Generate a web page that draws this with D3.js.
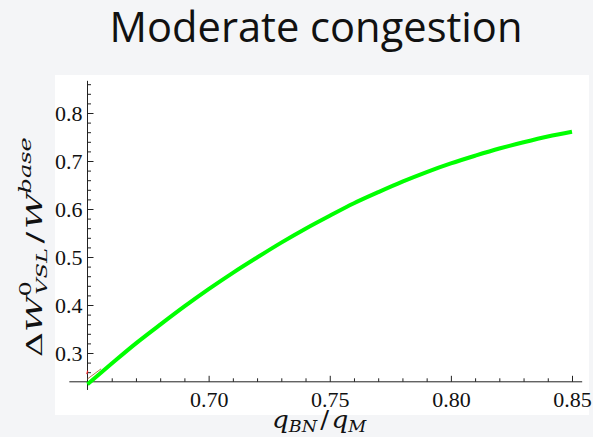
<!DOCTYPE html>
<html>
<head>
<meta charset="utf-8">
<script src="https://cdn.jsdelivr.net/npm/d3@7"></script>
<style>
  body { margin: 0; background: #f4f5f7; }
  svg { display: block; }
</style>
</head>
<body>
<div id="chart"></div>
<script>
// data
var ratio = [0.65, 0.66, 0.67, 0.68, 0.69, 0.70, 0.71, 0.72, 0.73, 0.74, 0.75,
             0.76, 0.77, 0.78, 0.79, 0.80, 0.81, 0.82, 0.83, 0.84, 0.85];
var gain  = [0.235, 0.278, 0.320, 0.359, 0.397, 0.433, 0.467, 0.499, 0.530, 0.559, 0.586,
             0.612, 0.635, 0.657, 0.677, 0.695, 0.711, 0.726, 0.739, 0.751, 0.761];
// tiny stray curves near the origin
var redX = [0.6497, 0.6501];
var redY = [0.256, 0.263];
var brownX = [0.6500, 0.6556];
var brownY = [0.246, 0.267];

var xMajor = [0.70, 0.75, 0.80, 0.85];
var yMajor = [0.3, 0.4, 0.5, 0.6, 0.7, 0.8];

var width = 593, height = 437;

var svg = d3.select("#chart").append("svg")
    .attr("width", width)
    .attr("height", height);

// slide background + white picture
svg.append("rect").attr("width", width).attr("height", height).style("fill", "#f4f5f7");
svg.append("rect").attr("x", 55).attr("y", 75).attr("width", 534).attr("height", 340).style("fill", "#fff");

// title, fitted to width
var title = svg.append("text")
    .attr("x", 316).attr("y", 42)
    .attr("text-anchor", "middle")
    .style("font-family", "'Open Sans', sans-serif")
    .style("font-size", "40px")
    .style("fill", "#111")
    .text("Moderate congestion");
var tw = title.node().getComputedTextLength();
title.style("font-size", (40 * 413 / tw) + "px");

var x = d3.scaleLinear().domain([0.65, 0.85]).range([87.5, 572]);
var y = d3.scaleLinear().domain([0.3, 0.8]).range([353, 113]);

var axisColor = "#222";

// x axis
svg.append("g")
    .attr("transform", "translate(0," + y(0.24) + ")")
    .call(d3.axisBottom(x).tickValues(xMajor).tickSize(-6).tickPadding(10).tickFormat(d3.format(".2f")));
svg.append("g")
    .attr("transform", "translate(0," + y(0.24) + ")")
    .call(d3.axisBottom(x).tickValues(d3.range(66, 85).map(d => d / 100).filter(d => Math.round(d * 100) % 5 != 0)).tickSize(-3.5).tickFormat(""));

// y axis
svg.append("g")
    .attr("transform", "translate(" + x(0.65) + ",0)")
    .call(d3.axisLeft(y).tickValues(yMajor).tickSize(-6).tickPadding(5).tickFormat(d3.format(".1f")));
svg.append("g")
    .attr("transform", "translate(" + x(0.65) + ",0)")
    .call(d3.axisLeft(y).tickValues(d3.range(12, 44).map(d => d / 50).filter(d => Math.round(d * 50) % 5 != 0)).tickSize(-3.5).tickFormat(""));

svg.selectAll(".domain").remove();
svg.selectAll(".tick line").style("stroke", axisColor);
svg.selectAll(".tick text")
    .style("font-family", "'Liberation Serif', 'Times New Roman', serif")
    .style("font-size", "22px")
    .style("fill", "#111");

// axis lines, running a little past the origin
svg.append("line")
    .attr("x1", x(0.6425)).attr("x2", x(0.8542))
    .attr("y1", y(0.24)).attr("y2", y(0.24))
    .style("stroke", axisColor);
svg.append("line")
    .attr("x1", x(0.65)).attr("x2", x(0.65))
    .attr("y1", y(0.223)).attr("y2", y(0.867))
    .style("stroke", axisColor);

// curves
var line = d3.line().x(d => x(d[0])).y(d => y(d[1])).curve(d3.curveCatmullRom);

svg.append("path")
    .datum(brownX.map((v, i) => [v, brownY[i]]))
    .attr("d", line)
    .style("fill", "none").style("stroke", "#b07a50").style("stroke-width", 1);
svg.append("path")
    .datum(redX.map((v, i) => [v, redY[i]]))
    .attr("d", line)
    .style("fill", "none").style("stroke", "#e22").style("stroke-width", 1.2);
svg.append("path")
    .datum(ratio.map((v, i) => [v, gain[i]]))
    .attr("d", line)
    .style("fill", "none")
    .style("stroke", "#00ff00")
    .style("stroke-width", 4)
    .style("stroke-linecap", "butt");

// axis labels (math style, stretched along their length like the picture)
var mathFont = "'DejaVu Serif', serif";

var xl = svg.append("text")
    .style("font-family", mathFont)
    .style("font-style", "italic")
    .style("font-size", "24px")
    .style("fill", "#111");
xl.append("tspan").text("q");
xl.append("tspan").attr("dy", 4).style("font-size", "16px").text("BN");
xl.append("tspan").attr("dx", 3).attr("dy", -4).style("font-style", "normal").text("/");
xl.append("tspan").attr("dx", 2).text("q");
xl.append("tspan").attr("dy", 4).style("font-size", "16px").text("M");
var xw = xl.node().getBBox().width;
xl.attr("transform", "translate(272,428) scale(" + (95 / xw) + ",1)");

var yl = svg.append("text")
    .style("font-family", mathFont)
    .style("font-style", "italic")
    .style("font-size", "23px")
    .style("fill", "#111");
yl.append("tspan").style("font-style", "normal").text("Δ");
yl.append("tspan").text("W");
yl.append("tspan").attr("dy", -11).style("font-size", "16px").style("font-style", "normal").text("0");
yl.append("tspan").attr("dx", -9).attr("dy", 16).style("font-size", "15px").text("VSL");
yl.append("tspan").attr("dx", 3).attr("dy", -5).style("font-style", "normal").text("/");
yl.append("tspan").attr("dx", 2).text("W");
yl.append("tspan").attr("dy", -11).style("font-size", "16px").text("base");
var yw = yl.node().getBBox().width;
yl.attr("transform", "translate(42,357) rotate(-90) scale(" + (220 / yw) + ",1)");
</script>
</body>
</html>
